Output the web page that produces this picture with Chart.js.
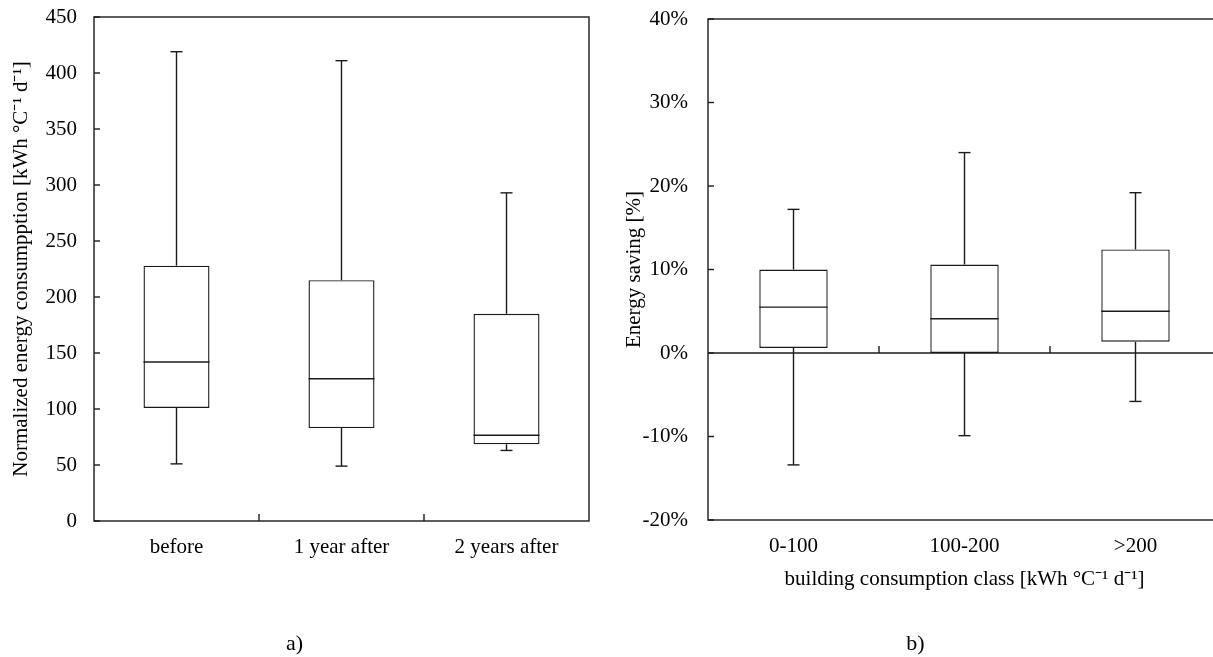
<!DOCTYPE html>
<html>
<head>
<meta charset="utf-8">
<script src="https://cdn.jsdelivr.net/npm/chart.js@4/dist/chart.umd.min.js"></script>
<style>
  html, body { margin: 0; padding: 0; background: #fff; overflow: hidden; width: 1213px; height: 657px; }
  canvas { position: absolute; top: 0; }
  #left { left: 0; }
  #right { left: 610px; }
</style>
</head>
<body>
<canvas id="left" width="600" height="657"></canvas>
<canvas id="right" width="697" height="657"></canvas>
<script>
// panel a) normalized energy consumption [kWh °C-1 d-1]
const groupsA = ["before", "1 year after", "2 years after"];
const minA = [51, 49, 63];
const q1A = [101, 83, 68.5];
const medA = [142, 127, 76.5];
const q3A = [228, 215, 185];
const maxA = [419, 411, 293];

// panel b) energy saving [%]
const groupsB = ["0-100", "100-200", ">200"];
const minB = [-13.4, -9.9, -5.8];
const q1B = [0.6, 0, 1.35];
const medB = [5.5, 4.1, 5.0];
const q3B = [10.0, 10.6, 12.4];
const maxB = [17.2, 24.0, 19.2];

const INK = "#1b1b1b";
const FONT = "'Liberation Serif', 'Times New Roman', serif";

// whiskers, medians, frame and inward ticks
const boxPlot = {
  id: "boxPlot",
  afterDatasetsDraw(chart, args, opts) {
    const ctx = chart.ctx,
      x = chart.scales.x,
      y = chart.scales.y,
      area = chart.chartArea;
    const line = (x1, y1, x2, y2) => {
      ctx.beginPath();
      ctx.moveTo(x1, y1);
      ctx.lineTo(x2, y2);
      ctx.stroke();
    };
    ctx.save();
    ctx.strokeStyle = INK;
    ctx.lineWidth = 1.4;

    chart.getDatasetMeta(0).data.forEach((bar, i) => {
      const { x: cx, width } = bar.getProps(["x", "width"], true);
      const half = width / 2;
      const pMax = y.getPixelForValue(opts.max[i]),
        pQ3 = y.getPixelForValue(opts.q3[i]),
        pMed = y.getPixelForValue(opts.med[i]),
        pQ1 = y.getPixelForValue(opts.q1[i]),
        pMin = y.getPixelForValue(opts.min[i]);
      line(cx, pQ3, cx, pMax);
      line(cx - 6, pMax, cx + 6, pMax);
      line(cx, pQ1, cx, pMin);
      line(cx - 6, pMin, cx + 6, pMin);
      line(cx - half, pMed, cx + half, pMed);
    });

    ctx.strokeRect(area.left, area.top, area.right - area.left, area.bottom - area.top);

    let base = area.bottom;
    if (opts.zeroLine) {
      base = y.getPixelForValue(0);
      line(area.left, base, area.right, base);
    }
    y.ticks.forEach((t) => {
      const py = y.getPixelForValue(t.value);
      line(area.left, py, area.left + 6, py);
    });
    for (let i = 0; i < x.ticks.length - 1; i++) {
      const px = (x.getPixelForValue(i) + x.getPixelForValue(i + 1)) / 2;
      line(px, base, px, base - 7);
    }
    ctx.restore();
  },
};

function makeChart(id, o) {
  return new Chart(id, {
    type: "bar",
    data: {
      labels: o.labels,
      datasets: [
        {
          data: o.q1.map((v, i) => [v, o.q3[i]]),
          backgroundColor: "#fff",
          borderColor: INK,
          borderWidth: 1.4,
          borderSkipped: false,
          barPercentage: 0.4,
          categoryPercentage: 1,
        },
      ],
    },
    options: {
      responsive: false,
      animation: false,
      layout: { padding: o.padding },
      scales: {
        x: {
          offset: true,
          grid: { display: false, drawTicks: false },
          border: { display: false },
          ticks: { padding: 14, color: "#000", font: { family: FONT, size: 21 } },
          title: {
            display: !!o.xTitle,
            text: o.xTitle,
            color: "#000",
            font: { family: FONT, size: 21 },
            padding: { top: 0, bottom: 0 },
          },
          afterFit: (s) => { s.height = o.xHeight; },
        },
        y: {
          min: o.yMin,
          max: o.yMax,
          // ticks are drawn by the plugin; the hidden tick length only spaces the labels
          grid: { display: false, drawTicks: true, tickLength: o.tickGap },
          border: { display: false },
          ticks: {
            stepSize: o.step,
            padding: 2,
            color: "#000",
            font: { family: FONT, size: 21 },
            callback: o.fmt,
          },
          title: {
            display: true,
            text: o.yTitle,
            color: "#000",
            font: { family: FONT, size: 21 },
            padding: { top: o.yTitlePad, bottom: 0 },
          },
          afterFit: (s) => { s.width = o.yWidth; },
        },
      },
      plugins: {
        legend: { display: false },
        tooltip: { enabled: false },
        title: {
          display: true,
          position: "bottom",
          text: o.caption,
          color: "#000",
          font: { family: FONT, size: 22, weight: "normal" },
          padding: o.capPad,
        },
        boxPlot: {
          min: o.min, q1: o.q1, med: o.med, q3: o.q3, max: o.max,
          zeroLine: o.zeroLine,
        },
      },
    },
    plugins: [boxPlot],
  });
}

makeChart("left", {
  labels: groupsA,
  min: minA, q1: q1A, med: medA, q3: q3A, max: maxA,
  yMin: 0, yMax: 450, step: 50,
  fmt: (v) => v,
  yTitle: "Normalized energy consumpption [kWh °C\u207B\u00B9 d\u207B\u00B9]",
  yTitlePad: 9,
  yWidth: 94,
  tickGap: 15,
  xTitle: "",
  xHeight: 60,
  caption: "a)",
  capPad: { top: 49.6, bottom: 0 },
  padding: { top: 17, right: 11, left: 0, bottom: 0 },
  zeroLine: false,
});

makeChart("right", {
  labels: groupsB,
  min: minB, q1: q1B, med: medB, q3: q3B, max: maxB,
  yMin: -20, yMax: 40, step: 10,
  fmt: (v) => v + "%",
  yTitle: "Energy saving [%]",
  yTitlePad: 12,
  yWidth: 98,
  tickGap: 18,
  xTitle: "building consumption class [kWh °C\u207B\u00B9 d\u207B\u00B9]",
  xHeight: 72,
  caption: "b)",
  capPad: { top: 38.6, bottom: 0 },
  padding: { top: 19, right: 86, left: 0, bottom: 0 },
  zeroLine: true,
});
</script>
</body>
</html>
